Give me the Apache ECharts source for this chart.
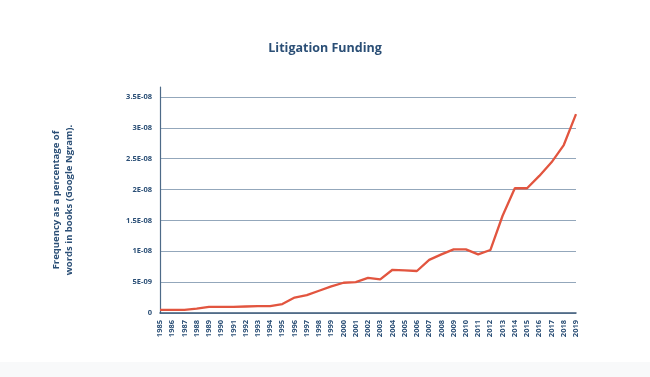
<!DOCTYPE html>
<html><head><meta charset="utf-8">
<script src="https://cdn.jsdelivr.net/npm/echarts@6/dist/echarts.min.js"></script>
<style>html,body{margin:0;padding:0;background:#fff}#c{width:650px;height:377px}</style>
</head><body><div id="c"></div>
<script>
var years = ['1985','1986','1987','1988','1989','1990','1991','1992','1993','1994','1995','1996','1997','1998','1999','2000','2001','2002','2003','2004','2005','2006','2007','2008','2009','2010','2011','2012','2013','2014','2015','2016','2017','2018','2019'];
var frequency = [0.5e-9,0.5e-9,0.5e-9,0.7e-9,1.0e-9,1.0e-9,1.0e-9,1.05e-9,1.1e-9,1.1e-9,1.45e-9,2.5e-9,2.9e-9,3.6e-9,4.3e-9,4.9e-9,5.0e-9,5.7e-9,5.45e-9,7.0e-9,6.9e-9,6.8e-9,8.6e-9,9.5e-9,10.3e-9,10.3e-9,9.5e-9,10.2e-9,15.75e-9,20.2e-9,20.2e-9,22.2e-9,24.4e-9,27.2e-9,32.2e-9];
var yTickLabels = ['0','5E-09','1E-08','1.5E-08','2E-08','2.5E-08','3E-08','3.5E-08'];
var titleText = 'Litigation Funding';
var yAxisName = 'Frequency as a percentage of\nwords in books (Google Ngram).';

var chart = echarts.init(document.getElementById('c'), null, {renderer:'canvas'});
var navy = '#2b4f76';
var grid = '#93a7bb';
chart.setOption({
  backgroundColor: '#ffffff',
  animation: false,
  title: {
    text: titleText, left: 'center', top: 37,
    textStyle: {fontFamily: 'Open Sans', fontWeight: 'bold', fontSize: 12.5, color: navy}
  },
  graphic: [{
    type: 'rect', left: 0, top: 362, shape: {width: 650, height: 15},
    style: {fill: '#f8f9fa'}, silent: true, z: -10
  }],
  grid: {left: 160, right: 74, top: 87, bottom: 64},
  xAxis: {
    type: 'category', data: years, boundaryGap: false,
    axisLine: {show: true, lineStyle: {color: '#3d5a78', width: 1.5}},
    axisTick: {show: false},
    axisLabel: {rotate: 90, interval: 0, fontFamily: 'Open Sans', fontWeight: 'bold', fontSize: 7.5, color: navy, margin: 7}
  },
  yAxis: {
    type: 'value', min: 0, max: 3.66e-8, interval: 5e-9,
    name: yAxisName, nameLocation: 'middle', nameRotate: 90, nameGap: 84,
    nameTextStyle: {fontFamily: 'Open Sans', fontWeight: 'bold', fontSize: 9.5, color: navy, lineHeight: 13, align: 'center'},
    axisLine: {show: true, lineStyle: {color: '#4d6a88', width: 1.2}},
    axisTick: {show: false},
    axisLabel: {
      fontFamily: 'Open Sans', fontWeight: 'bold', fontSize: 7.5, color: navy, margin: 8,
      formatter: function (v) {
        var i = Math.round(v / 5e-9);
        if (Math.abs(v - i * 5e-9) > 1e-12 || i >= yTickLabels.length) return '';
        return yTickLabels[i];
      }
    },
    splitLine: {show: true, lineStyle: {color: [grid, grid, grid, grid, grid, grid, grid, grid, 'rgba(0,0,0,0)'], width: 1.2}}
  },
  series: [{
    type: 'line', data: frequency, showSymbol: false, symbol: 'none',
    lineStyle: {color: '#e2553f', width: 2.3}
  }]
});
</script></body></html>
